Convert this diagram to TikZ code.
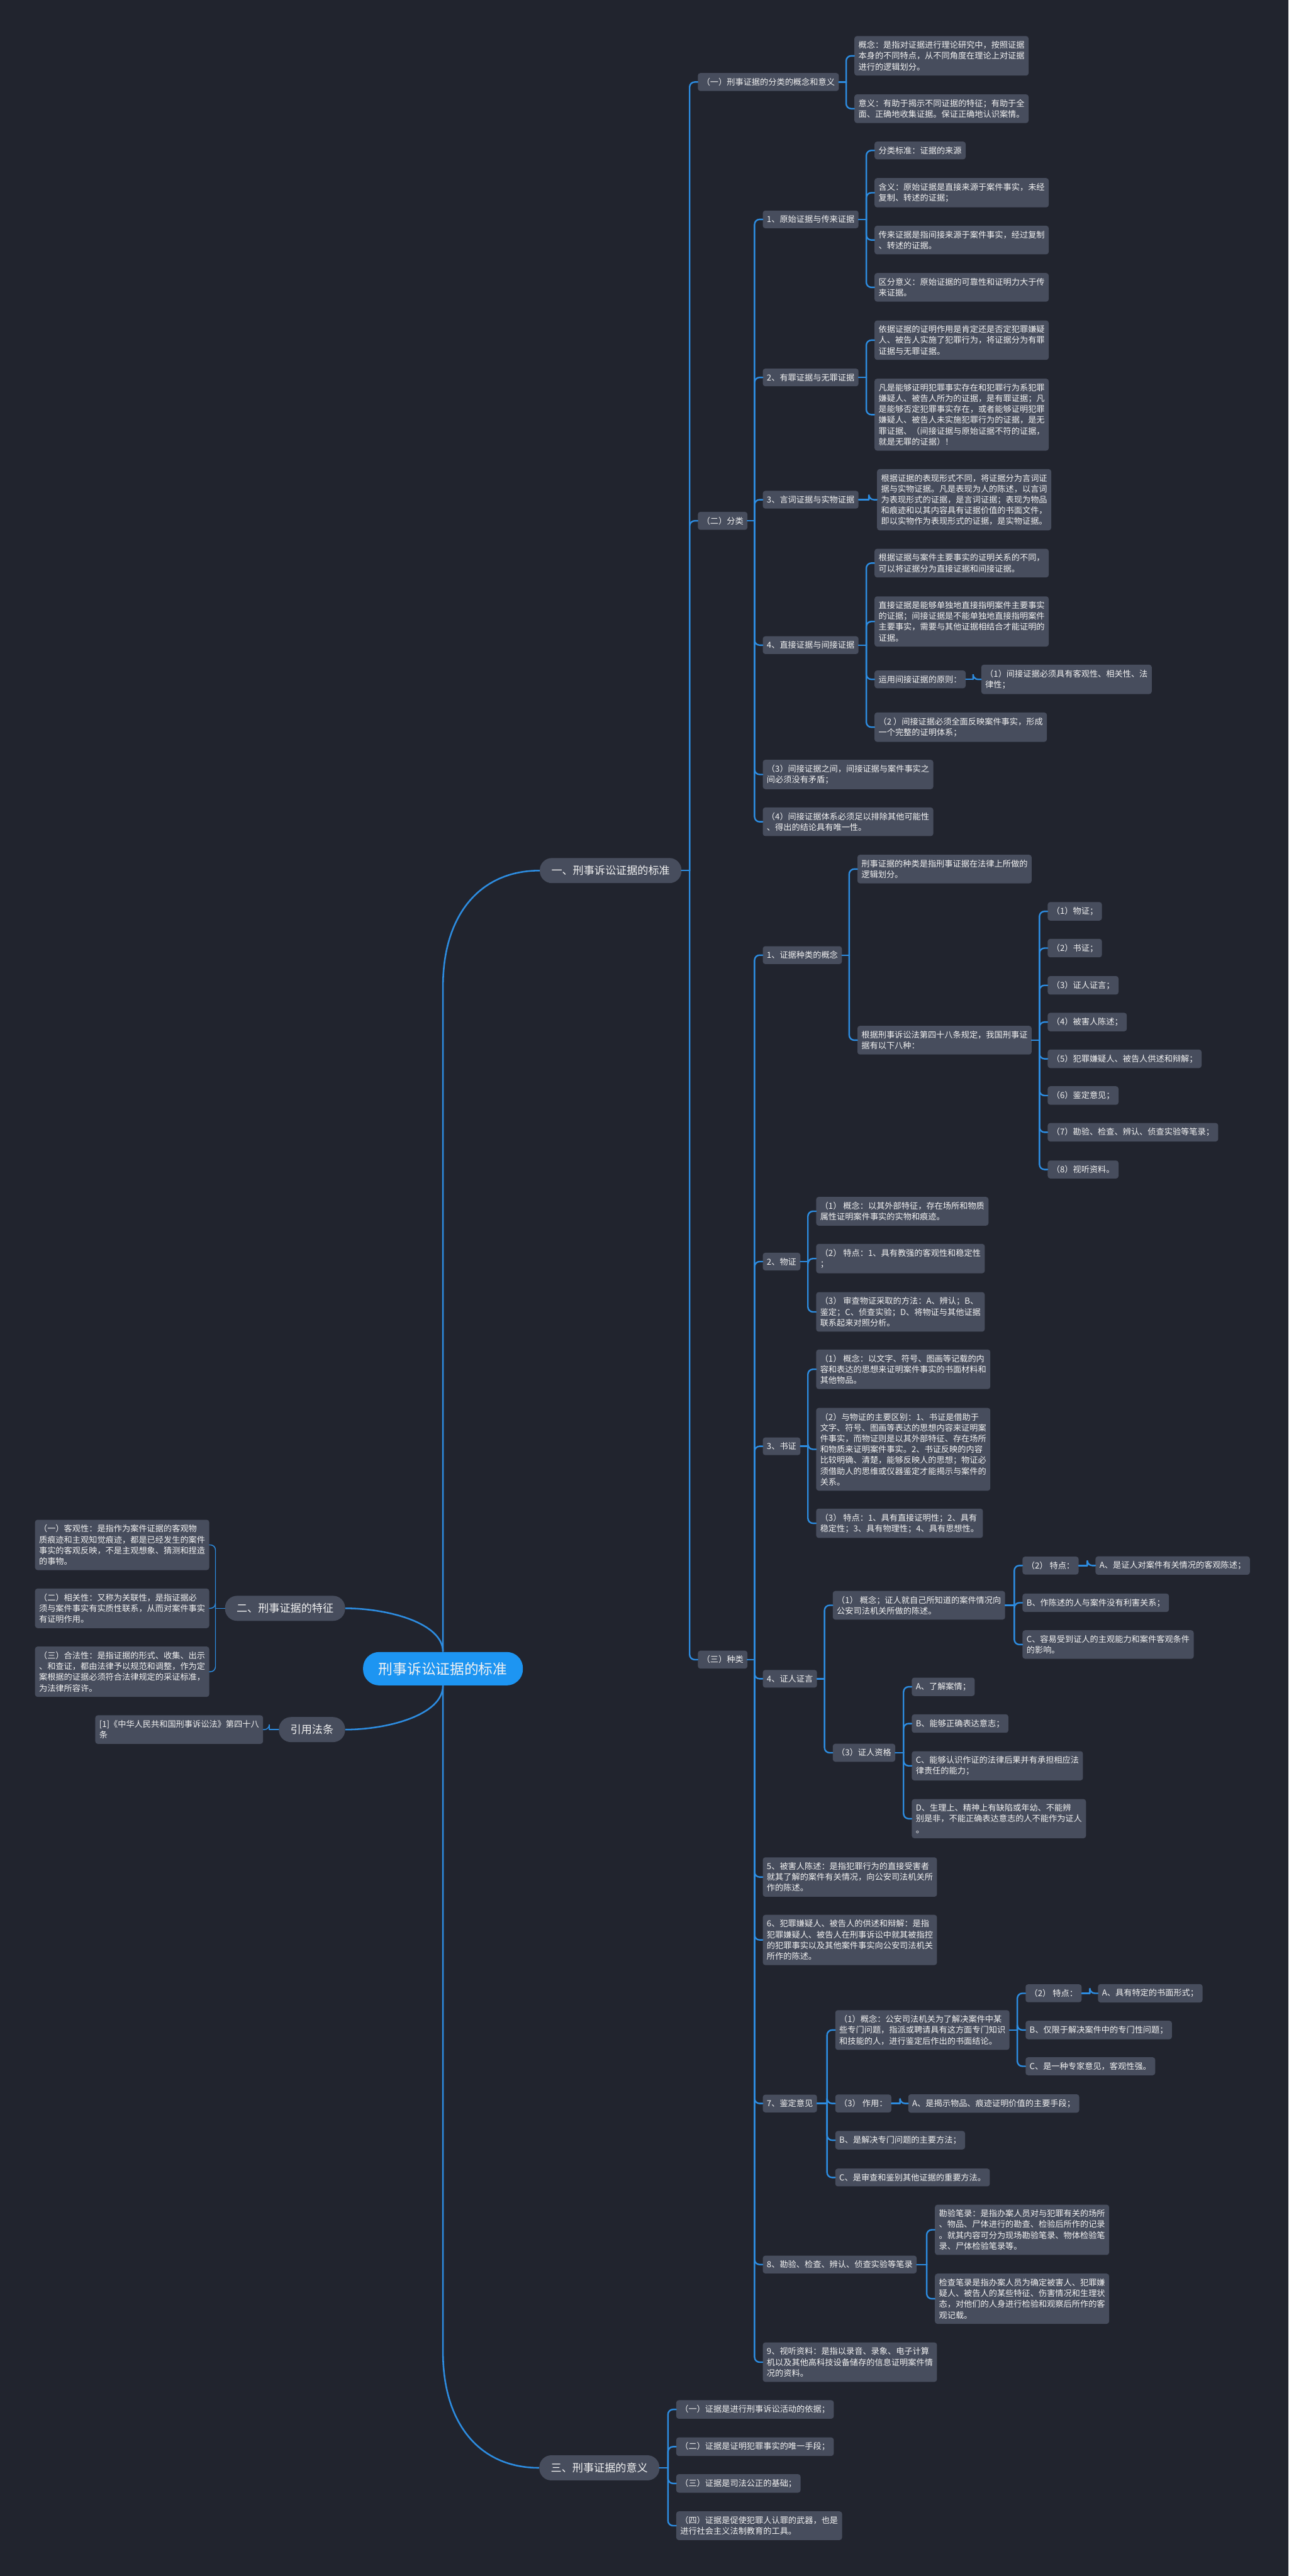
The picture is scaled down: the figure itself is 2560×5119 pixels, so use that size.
\documentclass[tikz,border=0pt]{standalone}
\usepackage{fontspec}
\usepackage{xcolor}
\usepackage{tikz}
\newfontfamily\cjk{Noto Sans CJK SC}

\definecolor{bgcol}{HTML}{21242E}
\definecolor{boxcol}{HTML}{474D5D}
\definecolor{linecol}{HTML}{2D8CE0}
\definecolor{rootcol}{HTML}{1D95F2}
\definecolor{txtcol}{HTML}{F2F2F2}

% elbow link to a child on the right / on the left
\newcommand{\linkR}[2]{%
  \path (#2.west) ++(-16,0) coordinate (sp);
  \draw[branch] (#1.east) -- (sp |- #1.east);
  \draw[branch, rounded corners=5pt] (sp |- #1.east) |- (#2.west);}
\newcommand{\linkL}[2]{%
  \path (#2.east) ++(12,0) coordinate (sp);
  \draw[branchL] (#1.west) -- (sp |- #1.west);
  \draw[branchL, rounded corners=5pt] (sp |- #1.west) |- (#2.east);}

\begin{document}
\begin{tikzpicture}[x=0.5pt, y=-0.5pt,
  every node/.style={text=txtcol, font=\cjk\fontsize{8.25pt}{10.75pt}\selectfont},
  leaf/.style={fill=boxcol, rounded corners=2.5pt, inner xsep=4pt, inner ysep=5pt, align=left, anchor=west},
  leafL/.style={leaf, anchor=east},
  topic/.style={fill=boxcol, rounded corners=12pt, inner xsep=11.5pt, inner ysep=7.5pt, font=\cjk\fontsize{10.7pt}{13pt}\selectfont},
  centre/.style={fill=rootcol, rounded corners=16pt, inner xsep=15.5pt, inner ysep=10pt, font=\cjk\fontsize{14.2pt}{17pt}\selectfont},
  branch/.style={draw=linecol, line width=1.5pt, line cap=round},
  branchL/.style={draw=linecol, line width=0.9pt, line cap=round},
  trunk/.style={draw=linecol, line width=1.6pt}]

% Background
\path[use as bounding box, fill=bgcol] (0,0) rectangle (2560,5119);

% Centre and main topics
\node[centre] (root) at (880,3316) {刑事诉讼证据的标准};
\node[topic, anchor=west] (one) at (1072,1730) {一、刑事诉讼证据的标准};
\node[topic, anchor=east] (two) at (686,3196) {二、刑事证据的特征};
\node[topic, anchor=east] (cite) at (686,3437) {引用法条};
\node[topic, anchor=west] (three) at (1071,4904) {三、刑事证据的意义};

\draw[trunk] (root.north) -- (880,1960) .. controls (880,1820) and (952,1730) .. (one.west);
\draw[trunk] (root.south) -- (880,4674) .. controls (880,4814) and (951,4904) .. (three.west);
\draw[trunk] (root.north) .. controls (880,3225) and (770,3196) .. (two.east);
\draw[trunk] (root.south) .. controls (880,3408) and (770,3437) .. (cite.east);

% 一、 level two
\node[leaf] (a1) at (1386,163) {（一）刑事证据的分类的概念和意义};
\node[leaf] (a2) at (1386,1035) {（二）分类};
\node[leaf] (a3) at (1386,3298) {（三）种类};
\linkR{one}{a1} \linkR{one}{a2} \linkR{one}{a3}

\node[leaf] (a1a) at (1697,111) {概念：是指对证据进行理论研究中，按照证据\\本身的不同特点，从不同角度在理论上对证据\\进行的逻辑划分。};
\node[leaf] (a1b) at (1697,216) {意义：有助于揭示不同证据的特征；有助于全\\面、正确地收集证据。保证正确地认识案情。};
\linkR{a1}{a1a} \linkR{a1}{a1b}

% (二) 分类
\node[leaf] (b1) at (1515,436) {1、原始证据与传来证据};
\node[leaf] (b2) at (1515,750) {2、有罪证据与无罪证据};
\node[leaf] (b3) at (1515,993) {3、言词证据与实物证据};
\node[leaf] (b4) at (1515,1282) {4、直接证据与间接证据};
\node[leaf] (b5) at (1515,1539) {（3）间接证据之间，间接证据与案件事实之\\间必须没有矛盾；};
\node[leaf] (b6) at (1515,1633) {（4）间接证据体系必须足以排除其他可能性\\、得出的结论具有唯一性。};
\foreach \n in {b1,b2,b3,b4,b5,b6} {\linkR{a2}{\n}}

\node[leaf] (b1a) at (1737,299) {分类标准：证据的来源};
\node[leaf] (b1b) at (1737,383) {含义：原始证据是直接来源于案件事实，未经\\复制、转述的证据；};
\node[leaf] (b1c) at (1737,477) {传来证据是指间接来源于案件事实，经过复制\\、转述的证据。};
\node[leaf] (b1d) at (1737,571) {区分意义：原始证据的可靠性和证明力大于传\\来证据。};
\foreach \n in {b1a,b1b,b1c,b1d} {\linkR{b1}{\n}}

\node[leaf] (b2a) at (1737,676) {依据证据的证明作用是肯定还是否定犯罪嫌疑\\人、被告人实施了犯罪行为，将证据分为有罪\\证据与无罪证据。};
\node[leaf] (b2b) at (1737,824) {凡是能够证明犯罪事实存在和犯罪行为系犯罪\\嫌疑人、被告人所为的证据，是有罪证据；凡\\是能够否定犯罪事实存在，或者能够证明犯罪\\嫌疑人、被告人未实施犯罪行为的证据，是无\\罪证据、（间接证据与原始证据不符的证据，\\就是无罪的证据）！};
\linkR{b2}{b2a} \linkR{b2}{b2b}

\node[leaf] (b3a) at (1742,993) {根据证据的表现形式不同，将证据分为言词证\\据与实物证据。凡是表现为人的陈述，以言词\\为表现形式的证据，是言词证据；表现为物品\\和痕迹和以其内容具有证据价值的书面文件，\\即以实物作为表现形式的证据，是实物证据。};
\linkR{b3}{b3a}

\node[leaf] (b4a) at (1737,1119) {根据证据与案件主要事实的证明关系的不同，\\可以将证据分为直接证据和间接证据。};
\node[leaf] (b4b) at (1737,1235) {直接证据是能够单独地直接指明案件主要事实\\的证据；间接证据是不能单独地直接指明案件\\主要事实，需要与其他证据相结合才能证明的\\证据。};
\node[leaf] (b4c) at (1737,1350) {运用间接证据的原则：};
\node[leaf] (b4d) at (1737,1445) {（2 ）间接证据必须全面反映案件事实，形成\\一个完整的证明体系；};
\foreach \n in {b4a,b4b,b4c,b4d} {\linkR{b4}{\n}}
\node[leaf] (b4c1) at (1949,1350) {（1）间接证据必须具有客观性、相关性、法\\律性；};
\linkR{b4c}{b4c1}

% (三) 种类
\node[leaf] (c1) at (1515,1898) {1、证据种类的概念};
\node[leaf] (c2) at (1515,2507) {2、物证};
\node[leaf] (c3) at (1515,2874) {3、书证};
\node[leaf] (c4) at (1515,3336) {4、证人证言};
\node[leaf] (c5) at (1515,3730) {5、被害人陈述：是指犯罪行为的直接受害者\\就其了解的案件有关情况，向公安司法机关所\\作的陈述。};
\node[leaf] (c6) at (1515,3855) {6、犯罪嫌疑人、被告人的供述和辩解：是指\\犯罪嫌疑人、被告人在刑事诉讼中就其被指控\\的犯罪事实以及其他案件事实向公安司法机关\\所作的陈述。};
\node[leaf] (c7) at (1515,4180) {7、鉴定意见};
\node[leaf] (c8) at (1515,4500) {8、勘验、检查、辨认、侦查实验等笔录};
\node[leaf] (c9) at (1515,4694) {9、视听资料：是指以录音、录象、电子计算\\机以及其他高科技设备储存的信息证明案件情\\况的资料。};
\foreach \n in {c1,c2,c3,c4,c5,c6,c7,c8,c9} {\linkR{a3}{\n}}

\node[leaf] (c1a) at (1703,1727) {刑事证据的种类是指刑事证据在法律上所做的\\逻辑划分。};
\node[leaf] (c1b) at (1703,2067) {根据刑事诉讼法第四十八条规定，我国刑事证\\据有以下八种：};
\linkR{c1}{c1a} \linkR{c1}{c1b}
\node[leaf] (k1) at (2081,1811) {（1）物证；};
\node[leaf] (k2) at (2081,1884) {（2）书证；};
\node[leaf] (k3) at (2081,1958) {（3）证人证言；};
\node[leaf] (k4) at (2081,2031) {（4）被害人陈述；};
\node[leaf] (k5) at (2081,2104) {（5）犯罪嫌疑人、被告人供述和辩解；};
\node[leaf] (k6) at (2081,2177) {（6）鉴定意见；};
\node[leaf] (k7) at (2081,2250) {（7）勘验、检查、辨认、侦查实验等笔录；};
\node[leaf] (k8) at (2081,2324) {（8）视听资料。};
\foreach \n in {k1,k2,k3,k4,k5,k6,k7,k8} {\linkR{c1b}{\n}}

\node[leaf] (c2a) at (1621,2407) {（1） 概念：以其外部特征，存在场所和物质\\属性证明案件事实的实物和痕迹。};
\node[leaf] (c2b) at (1621,2501) {（2） 特点：1、具有教强的客观性和稳定性\\；};
\node[leaf] (c2c) at (1621,2607) {（3） 审查物证采取的方法：A、辨认；B、\\鉴定；C、侦查实验；D、将物证与其他证据\\联系起来对照分析。};
\foreach \n in {c2a,c2b,c2c} {\linkR{c2}{\n}}

\node[leaf] (c3a) at (1621,2721) {（1） 概念：以文字、符号、图画等记载的内\\容和表达的思想来证明案件事实的书面材料和\\其他物品。};
\node[leaf] (c3b) at (1621,2880) {（2）与物证的主要区别：1、书证是借助于\\文字、符号、图画等表达的思想内容来证明案\\件事实，而物证则是以其外部特征、存在场所\\和物质来证明案件事实。2、书证反映的内容\\比较明确、清楚，能够反映人的思想；物证必\\须借助人的思维或仪器鉴定才能揭示与案件的\\关系。};
\node[leaf] (c3c) at (1621,3027) {（3） 特点：1、具有直接证明性；2、具有\\稳定性；3、具有物理性；4、具有思想性。};
\foreach \n in {c3a,c3b,c3c} {\linkR{c3}{\n}}

\node[leaf] (c4a) at (1654,3190) {（1） 概念；证人就自己所知道的案件情况向\\公安司法机关所做的陈述。};
\node[leaf] (c4b) at (1654,3483) {（3）证人资格};
\linkR{c4}{c4a} \linkR{c4}{c4b}
\node[leaf] (c4a1) at (2031,3111) {（2） 特点：};
\node[leaf] (c4a2) at (2031,3185) {B、作陈述的人与案件没有利害关系；};
\node[leaf] (c4a3) at (2031,3268) {C、容易受到证人的主观能力和案件客观条件\\的影响。};
\foreach \n in {c4a1,c4a2,c4a3} {\linkR{c4a}{\n}}
\node[leaf] (c4a1a) at (2176,3111) {A、是证人对案件有关情况的客观陈述；};
\linkR{c4a1}{c4a1a}
\node[leaf] (c4b1) at (1811,3352) {A、了解案情；};
\node[leaf] (c4b2) at (1811,3425) {B、能够正确表达意志；};
\node[leaf] (c4b3) at (1811,3509) {C、能够认识作证的法律后果并有承担相应法\\律责任的能力；};
\node[leaf] (c4b4) at (1811,3614) {D、生理上、精神上有缺陷或年幼、不能辨\\别是非，不能正确表达意志的人不能作为证人\\。};
\foreach \n in {c4b1,c4b2,c4b3,c4b4} {\linkR{c4b}{\n}}

\node[leaf] (c7a) at (1659,4034) {（1）概念：公安司法机关为了解决案件中某\\些专门问题，指派或聘请具有这方面专门知识\\和技能的人，进行鉴定后作出的书面结论。};
\node[leaf] (c7b) at (1659,4180) {（3） 作用：};
\node[leaf] (c7c) at (1659,4253) {B、是解决专门问题的主要方法；};
\node[leaf] (c7d) at (1659,4327) {C、是审查和鉴别其他证据的重要方法。};
\foreach \n in {c7a,c7b,c7c,c7d} {\linkR{c7}{\n}}
\node[leaf] (c7a1) at (2037,3961) {（2） 特点：};
\node[leaf] (c7a2) at (2037,4034) {B、仅限于解决案件中的专门性问题；};
\node[leaf] (c7a3) at (2037,4106) {C、是一种专家意见，客观性强。};
\foreach \n in {c7a1,c7a2,c7a3} {\linkR{c7a}{\n}}
\node[leaf] (c7a1a) at (2181,3961) {A、具有特定的书面形式；};
\linkR{c7a1}{c7a1a}
\node[leaf] (c7b1) at (1804,4180) {A、是揭示物品、痕迹证明价值的主要手段；};
\linkR{c7b}{c7b1}

\node[leaf] (c8a) at (1857,4431) {勘验笔录：是指办案人员对与犯罪有关的场所\\、物品、尸体进行的勘查、检验后所作的记录\\。就其内容可分为现场勘验笔录、物体检验笔\\录、尸体检验笔录等。};
\node[leaf] (c8b) at (1857,4568) {检查笔录是指办案人员为确定被害人、犯罪嫌\\疑人、被告人的某些特征、伤害情况和生理状\\态，对他们的人身进行检验和观察后所作的客\\观记载。};
\linkR{c8}{c8a} \linkR{c8}{c8b}

% 二、 characteristics (left)
\node[leafL] (t1) at (416,3070) {（一）客观性：是指作为案件证据的客观物\\质痕迹和主观知觉痕迹，都是已经发生的案件\\事实的客观反映，不是主观想象、猜测和捏造\\的事物。};
\node[leafL] (t2) at (416,3196) {（二）相关性：又称为关联性，是指证据必\\须与案件事实有实质性联系，从而对案件事实\\有证明作用。};
\node[leafL] (t3) at (416,3322) {（三）合法性：是指证据的形式、收集、出示\\、和查证，都由法律予以规范和调整，作为定\\案根据的证据必须符合法律规定的采证标准，\\为法律所容许。};
\linkL{two}{t1} \linkL{two}{t2} \linkL{two}{t3}

\node[leafL] (law) at (523,3437) {[1]《中华人民共和国刑事诉讼法》第四十八\\条};
\linkL{cite}{law}

% 三、 significance
\node[leaf] (s1) at (1343,4788) {（一）证据是进行刑事诉讼活动的依据；};
\node[leaf] (s2) at (1343,4862) {（二）证据是证明犯罪事实的唯一手段；};
\node[leaf] (s3) at (1343,4935) {（三）证据是司法公正的基础；};
\node[leaf] (s4) at (1343,5019) {（四）证据是促使犯罪人认罪的武器，也是\\进行社会主义法制教育的工具。};
\foreach \n in {s1,s2,s3,s4} {\linkR{three}{\n}}

\end{tikzpicture}
\end{document}
